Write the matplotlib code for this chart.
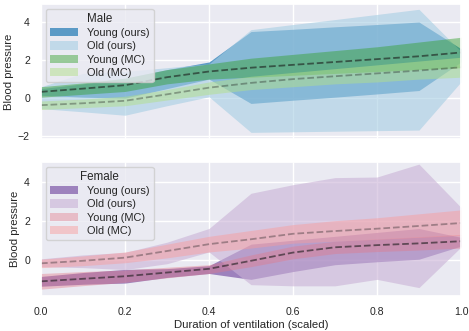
import numpy as np
import matplotlib
matplotlib.use("Agg")
import matplotlib.pyplot as plt
import seaborn as sns

x = [0.0, 0.1, 0.2, 0.3, 0.4, 0.5, 0.6, 0.7, 0.8, 0.9, 1.0]

# Male
m_young_mean = [0.33, 0.5, 0.68, 1.1, 1.4, 1.6, 1.75, 1.9, 2.05, 2.2, 2.4]
m_old_mean = [-0.37, -0.27, -0.14, 0.2, 0.55, 0.8, 1.0, 1.15, 1.3, 1.45, 1.62]
m_young_ours_lo = [0.15, 0.05, 0.0, 0.5, 1.0, -0.28, -0.11, 0.05, 0.22, 0.4, 1.9]
m_young_ours_hi = [0.5, 0.75, 1.05, 1.5, 1.9, 3.5, 3.62, 3.75, 3.87, 4.0, 2.6]
m_old_ours_lo = [-0.55, -0.72, -0.9, -0.4, 0.07, -1.8, -1.77, -1.74, -1.71, -1.68, 0.85]
m_old_ours_hi = [0.6, 1.3, 1.4, 1.6, 1.8, 3.6, 3.87, 4.13, 4.4, 4.67, 2.45]
m_young_mc_lo = [0.05, 0.2, 0.35, 0.75, 1.0, 1.1, 1.2, 1.3, 1.4, 1.5, 1.6]
m_young_mc_hi = [0.6, 0.8, 1.05, 1.5, 1.8, 2.1, 2.3, 2.5, 2.7, 2.95, 3.2]
m_old_mc_lo = [-0.6, -0.5, -0.4, -0.1, 0.2, 0.45, 0.6, 0.75, 0.85, 1.0, 1.1]
m_old_mc_hi = [-0.15, -0.05, 0.1, 0.45, 0.85, 1.15, 1.35, 1.55, 1.75, 1.95, 2.15]

# Female
f_young_mean = [-1.1, -0.97, -0.84, -0.65, -0.46, -0.05, 0.37, 0.64, 0.75, 0.84, 0.95]
f_old_mean = [-0.18, -0.05, 0.11, 0.45, 0.8, 1.05, 1.33, 1.47, 1.59, 1.73, 1.88]
f_young_ours_lo = [-1.35, -1.25, -1.19, -0.9, -0.7, -1.0, -0.6, -0.25, -0.1, 0.03, 0.7]
f_young_ours_hi = [-0.85, -0.65, -0.49, -0.45, -0.3, 0.8, 1.0, 1.2, 1.4, 1.6, 1.15]
f_old_ours_lo = [-0.35, -0.4, -0.5, -0.2, 0.4, -1.27, -1.33, -1.33, -1.0, -1.42, 0.65]
f_old_ours_hi = [0.05, 0.25, 0.38, 0.9, 1.6, 3.4, 3.84, 4.2, 4.23, 4.89, 2.68]
f_young_mc_lo = [-1.5, -1.32, -1.15, -0.92, -0.7, -0.35, 0.05, 0.32, 0.42, 0.5, 0.6]
f_young_mc_hi = [-0.7, -0.6, -0.52, -0.38, -0.25, 0.25, 0.7, 0.95, 1.07, 1.18, 1.3]
f_old_mc_lo = [-0.4, -0.3, -0.15, 0.1, 0.4, 0.6, 0.85, 0.95, 1.05, 1.15, 1.25]
f_old_mc_hi = [0.03, 0.2, 0.4, 0.8, 1.2, 1.5, 1.8, 2.0, 2.15, 2.35, 2.55]

labels = ["Young (ours)", "Old (ours)", "Young (MC)", "Old (MC)"]
x_ticks = [0.0, 0.2, 0.4, 0.6, 0.8, 1.0]

sns.set_theme(style="darkgrid")
plt.rcParams['font.family'] = ['Liberation Sans', 'DejaVu Sans']

fig = plt.figure(figsize=(4.69, 3.31), dpi=100)
ax1 = fig.add_axes([0.0874, 0.580, 0.8955, 0.408])
ax2 = fig.add_axes([0.0874, 0.1057, 0.8955, 0.405], sharex=ax1)

def rgb(r, g, b):
    return (r / 255, g / 255, b / 255)

male_styles = [(rgb(31, 120, 180), 0.7), (rgb(166, 206, 227), 0.6),
               (rgb(51, 160, 44), 0.45), (rgb(178, 223, 138), 0.5)]
female_styles = [(rgb(106, 61, 154), 0.6), (rgb(202, 178, 214), 0.6),
                 (rgb(227, 120, 135), 0.4), (rgb(251, 154, 153), 0.45)]

male_bands = [(m_young_ours_lo, m_young_ours_hi), (m_old_ours_lo, m_old_ours_hi),
              (m_young_mc_lo, m_young_mc_hi), (m_old_mc_lo, m_old_mc_hi)]
female_bands = [(f_young_ours_lo, f_young_ours_hi), (f_old_ours_lo, f_old_ours_hi),
                (f_young_mc_lo, f_young_mc_hi), (f_old_mc_lo, f_old_mc_hi)]

for ax, bands, styles, ym, om, title, ylim in [
        (ax1, male_bands, male_styles, m_young_mean, m_old_mean, "Male", (-2.15, 4.95)),
        (ax2, female_bands, female_styles, f_young_mean, f_old_mean, "Female", (-1.85, 5.0))]:
    for (lo, hi), (c, a), lab in zip(bands, styles, labels):
        ax.fill_between(x, lo, hi, color=c, alpha=a, linewidth=0, label=lab)
    ax.plot(x, ym, color='k', alpha=0.6, ls='--', lw=1.3)
    ax.plot(x, om, color='k', alpha=0.35, ls='--', lw=1.3)
    ax.set_ylim(*ylim)
    ax.set_xlim(0, 1)
    ax.set_ylabel("Blood pressure", fontsize=8.2, labelpad=3)
    ax.tick_params(axis='both', labelsize=7.6, pad=2)
    leg = ax.legend(loc='upper left', title=title, fontsize=7.9, title_fontsize=8.4,
                    labelspacing=0.3, borderpad=0.35, handlelength=2.6,
                    handleheight=0.8, borderaxespad=0.45)

ax1.set_yticks([-2, 0, 2, 4])
ax2.set_yticks([0, 2, 4])
ax2.set_xticks(x_ticks)
plt.setp(ax1.get_xticklabels(), visible=False)
ax2.set_xlabel("Duration of ventilation (scaled)", fontsize=8.2, labelpad=2)

fig.savefig("out.png", dpi=100)
